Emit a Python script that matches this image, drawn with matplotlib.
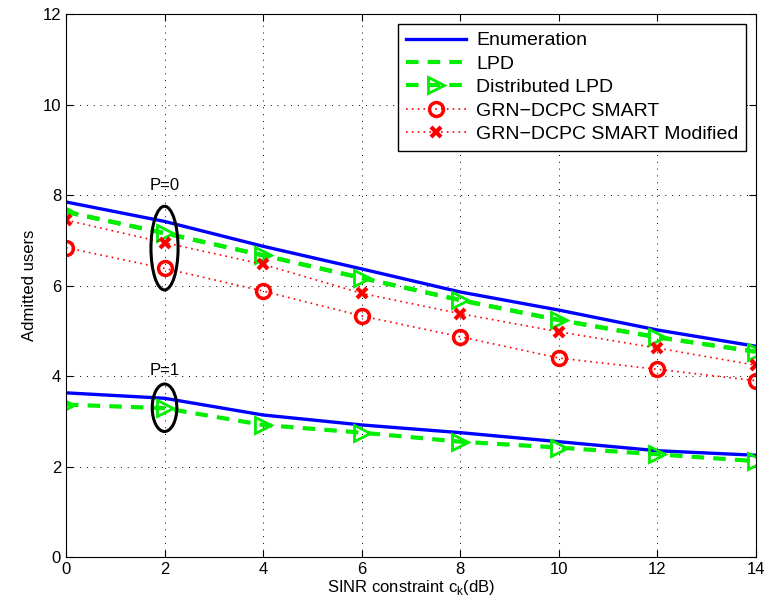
import numpy as np
import matplotlib.pyplot as plt
from matplotlib.patches import Ellipse

plt.rcParams['font.family'] = ['Liberation Sans', 'DejaVu Sans']

sinr = [0, 2, 4, 6, 8, 10, 12, 14]

# P=0
enum_p0 = [7.85, 7.42, 6.87, 6.37, 5.86, 5.46, 5.02, 4.66]
lpd_p0 = [7.63, 7.16, 6.67, 6.17, 5.68, 5.24, 4.86, 4.54]
smart_p0 = [6.84, 6.38, 5.88, 5.33, 4.87, 4.40, 4.15, 3.90]
smart_mod_p0 = [7.45, 6.95, 6.47, 5.83, 5.38, 4.98, 4.62, 4.24]

# P=1
enum_p1 = [3.63, 3.51, 3.14, 2.92, 2.75, 2.55, 2.35, 2.25]
lpd_p1 = [3.37, 3.29, 2.92, 2.75, 2.55, 2.42, 2.27, 2.12]

fig = plt.figure(figsize=(7.69, 6.14), dpi=100)
ax = fig.add_axes([0.0858, 0.0928, 0.897, 0.884])

green = '#00ee00'
ax.plot(sinr, enum_p0, '-', color='#0000ff', lw=2.4, label='Enumeration')
ax.plot(sinr, lpd_p0, '--', color=green, lw=3, dashes=(3, 2.2), label='LPD')
ax.plot(sinr, lpd_p0, '--', color=green, lw=3, dashes=(3, 2.2), marker='>', ms=11,
        mfc='none', mew=2, label='Distributed LPD')
ax.plot(sinr, smart_p0, linestyle=(0, (1, 2.5)), color='#ff0000', lw=1.2, marker='o', ms=10,
        mfc='none', mew=2.5, label='GRN\u2212DCPC SMART')
ax.plot(sinr, smart_mod_p0, linestyle=(0, (1, 2.5)), color='#ff0000', lw=1.2, marker='x', ms=7,
        mew=3, label='GRN\u2212DCPC SMART Modified')

ax.plot(sinr, enum_p1, '-', color='#0000ff', lw=2.4)
ax.plot(sinr, lpd_p1, '--', color=green, lw=3, dashes=(3, 2.2), marker='>', ms=11,
        mfc='none', mew=2)

ax.add_patch(Ellipse((2, 6.83), 0.55, 1.85, fill=False, ec='black', lw=2.2, zorder=5))
ax.add_patch(Ellipse((2, 3.30), 0.5, 1.05, fill=False, ec='black', lw=2.2, zorder=5))
ax.text(2, 8.05, 'P=0', ha='center', va='bottom', fontsize=12)
ax.text(2, 3.95, 'P=1', ha='center', va='bottom', fontsize=12)

ax.set_xlim(0, 14)
ax.set_ylim(0, 12)
ax.set_xticks(range(0, 15, 2))
ax.set_yticks(range(0, 13, 2))
ax.tick_params(direction='in', top=True, right=True, labelsize=12, length=5)
ax.grid(True, linestyle=(0, (1, 6)), color='black', lw=0.7)
ax.set_xlabel('SINR constraint c$_\\mathregular{k}$(dB)', fontsize=12, labelpad=1)
ax.set_ylabel('Admitted users', fontsize=12)

leg = ax.legend(loc='upper right', fontsize=14, fancybox=False, edgecolor='black',
                framealpha=1, handlelength=3.1, handletextpad=0.5, borderaxespad=0.5,
                labelspacing=0.3, borderpad=0.4)
leg.get_frame().set_linewidth(1.0)

fig.savefig('out.png', dpi=100)
